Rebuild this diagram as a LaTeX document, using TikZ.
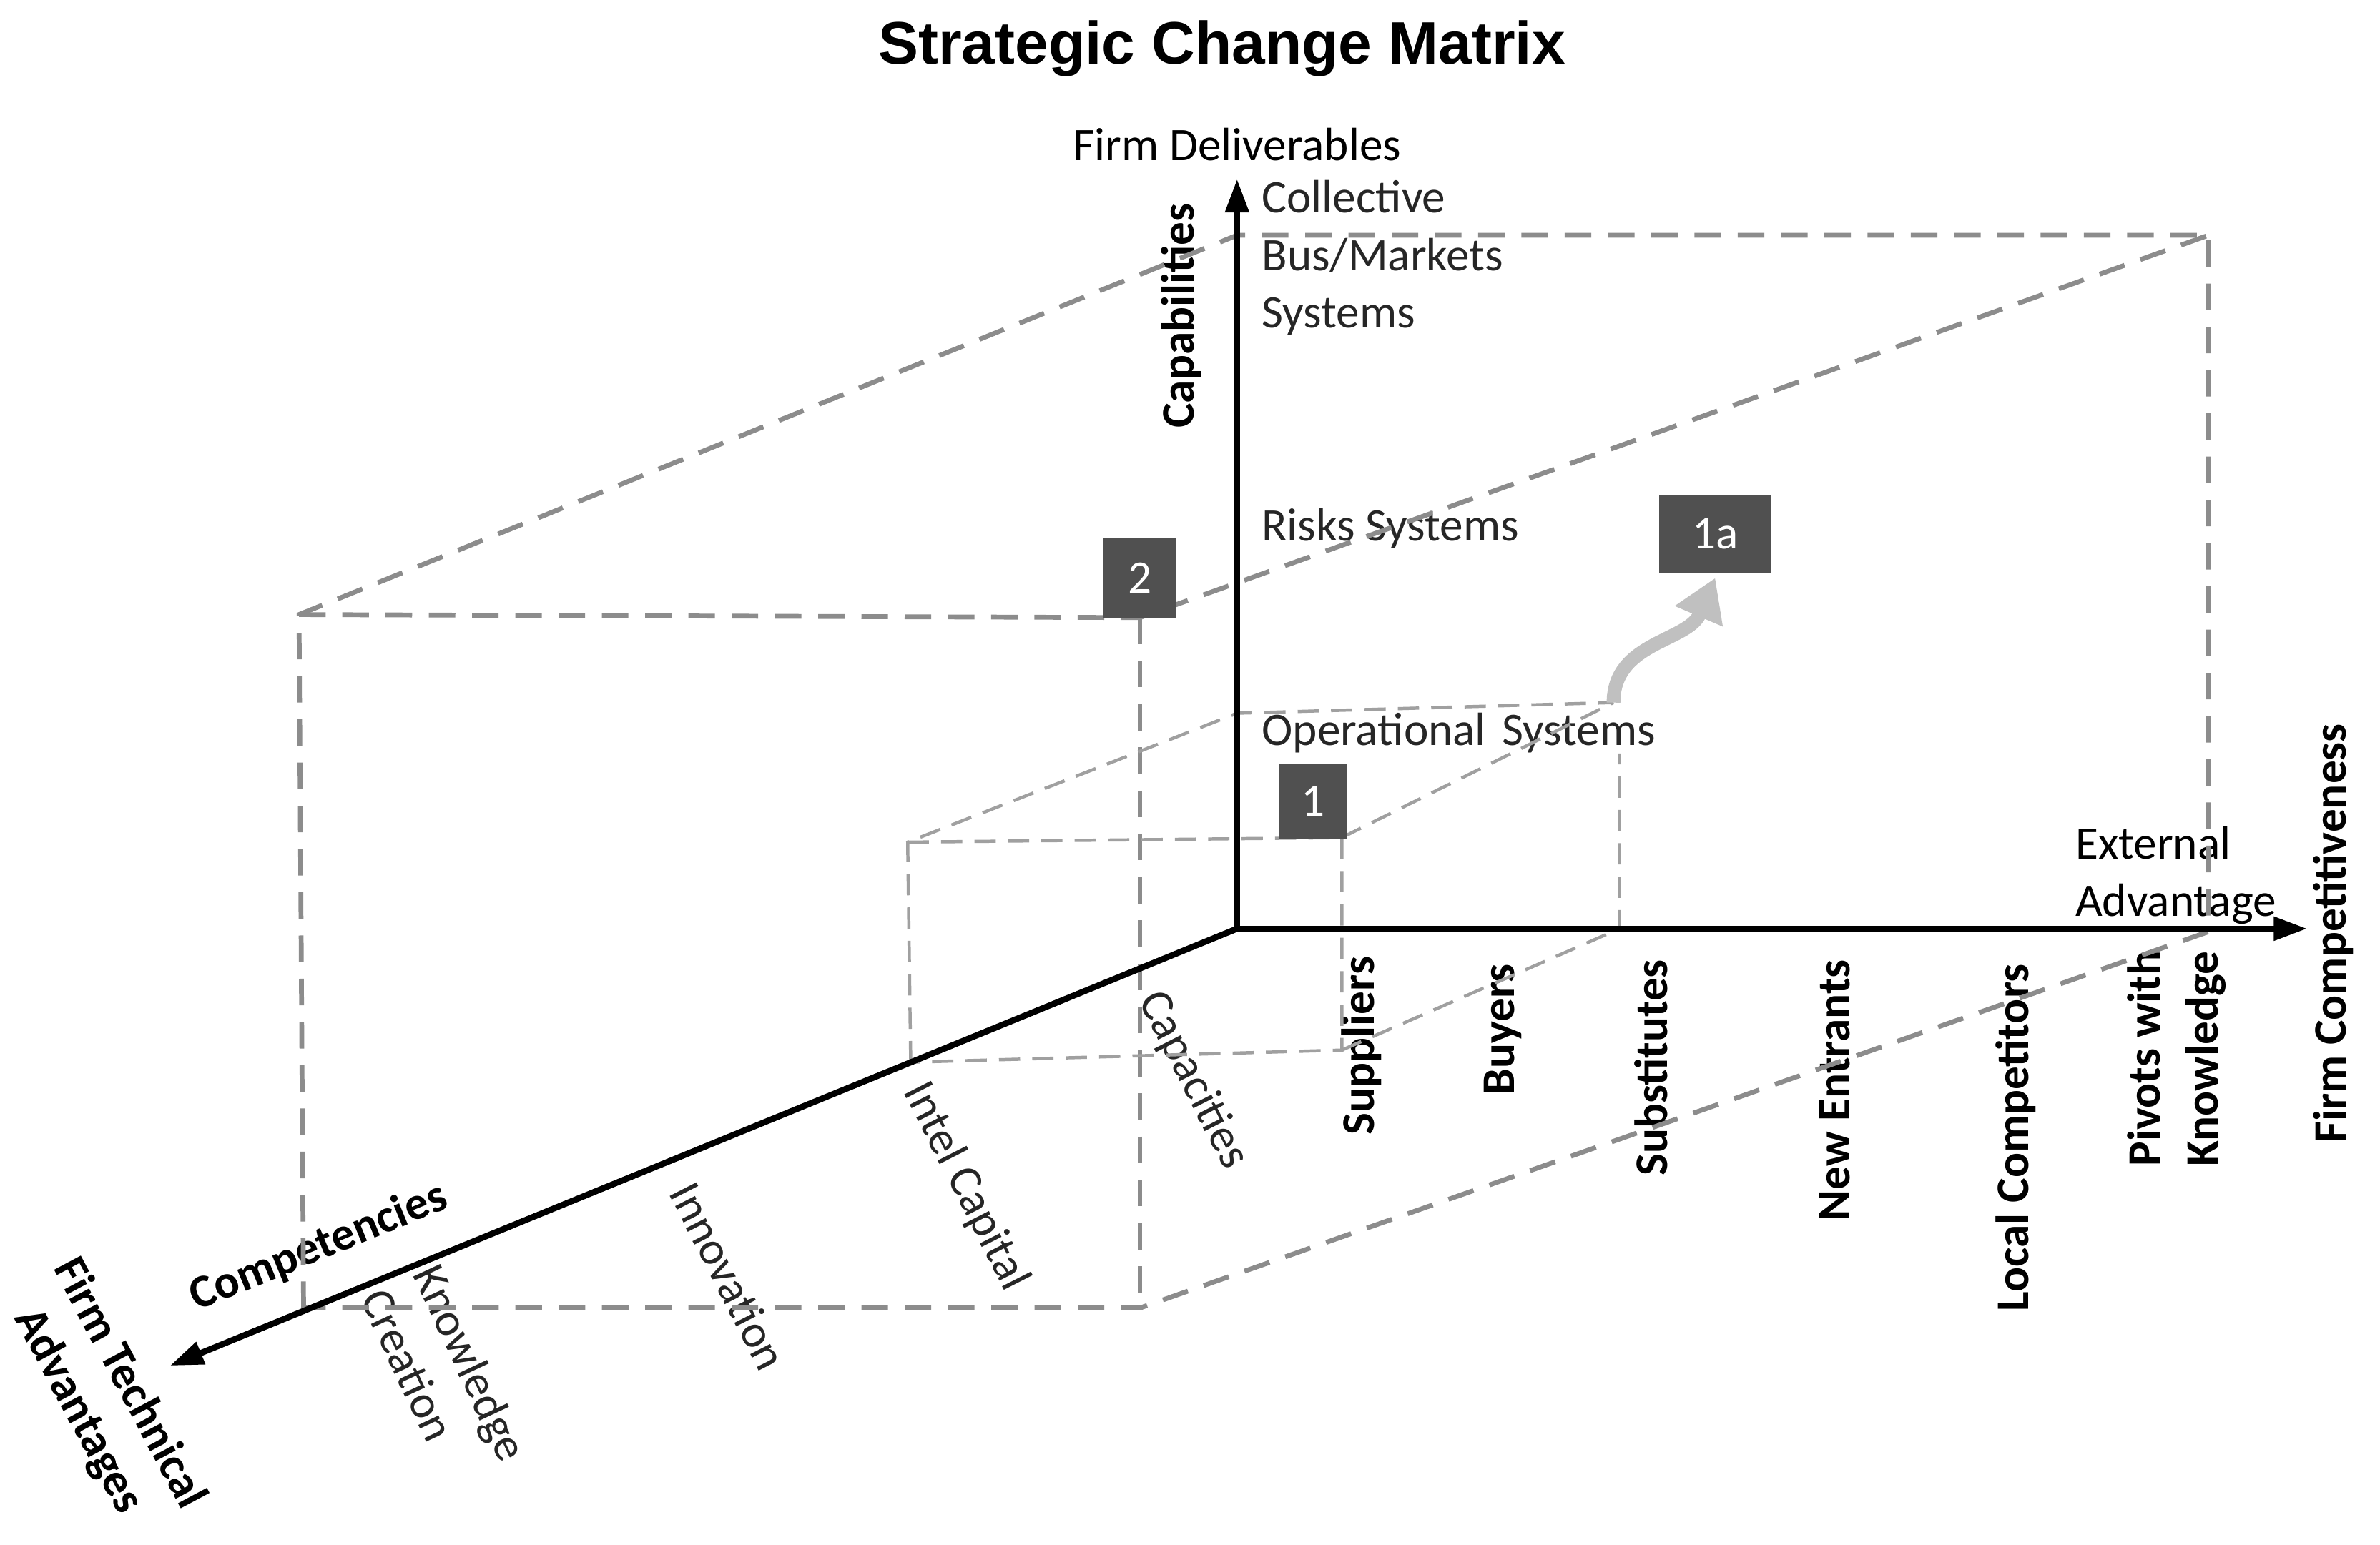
\documentclass[tikz,border=0pt]{standalone}
\usepackage{fontspec}
\setmainfont{Carlito}
\newfontfamily\headfont{Liberation Sans}
\usepackage{tikz}
\usetikzlibrary{arrows.meta,calc,positioning}

\definecolor{boxgray}{HTML}{505050}
\definecolor{outergray}{HTML}{8C8C8C}
\definecolor{innergray}{HTML}{A0A0A0}
\definecolor{curvegray}{HTML}{C0C0C0}
\definecolor{labelgray}{HTML}{262626}

\newcommand{\lblfont}{\fontsize{17.5}{21.6}\selectfont}

\tikzset{
  axis/.style={line width=2.3pt},
  outerbox/.style={outergray, line width=1.8pt, dash pattern=on 3.5mm off 2.2mm},
  innerbox/.style={innergray, line width=1.2pt, dash pattern=on 2.8mm off 1.6mm},
  numbox/.style={fill=boxgray, text=white, inner sep=0pt, font=\lblfont},
  lbl/.style={inner sep=0pt, font=\lblfont, text=labelgray},
  axlbl/.style={inner sep=0pt, font=\lblfont\bfseries, text=black},
}

\begin{document}
\begin{tikzpicture}[x=0.2mm, y=-0.2mm, >={Triangle[length=4.4mm,width=3mm]}, node distance=1mm, align=center]
	\useasboundingbox (0,0) rectangle (1568,1018);
	\node[font=\headfont\bfseries\fontsize{22.5}{27}\selectfont] (title) at (805,32) {Strategic Change Matrix};

	\coordinate (O) at (815,612);
	\coordinate (y_tip) at (815,118);
	\coordinate (x_tip) at (1520,612);
	\coordinate (z_tip) at (112,900);

	\coordinate (o_ftl) at (197,405);
	\coordinate (o_ftr) at (751,407);
	\coordinate (o_fbl) at (200,862);
	\coordinate (o_fbr) at (751,862);
	\coordinate (o_btl) at (815,155);
	\coordinate (o_btr) at (1455,155);
	\coordinate (o_bbr) at (1455,614);

	\coordinate (i_ftl) at (598,555);
	\coordinate (i_ftr) at (884,552);
	\coordinate (i_fbl) at (600,700);
	\coordinate (i_fbr) at (884,692);
	\coordinate (i_btl) at (815,470);
	\coordinate (i_btr) at (1063,463);
	\coordinate (i_bbr) at (1067,612);

	\node[lbl, text=black] (deliv) [above=2.3mm of y_tip] {Firm Deliverables};
	\node[axlbl, rotate=90] (capab) at (778,208) {Capabilities};
	\node[lbl, anchor=west, align=left] (collect) at (831,170) {Collective\\Bus/Markets\\Systems};
	\node[lbl, anchor=west] (risk) at (831,348) {Risks Systems};
	\node[lbl, anchor=west] (oper) at (831,483) {Operational\hspace{0.35em}Systems};
	\node[lbl, text=black, anchor=west, align=left] (extadv) at (1367,577) {External\\Advantage};
	\node[axlbl, rotate=90] (firmcomp) at (1537,615) {Firm Competitiveness};

	\foreach \xx/\yy/\txt [count=\i] in {897/630/Suppliers, 990/635/Buyers, 1088/632/Substitutes, 1209/632/New Entrants, 1328/635/Local Competitors}
		\node[axlbl, rotate=90, anchor=east] (x_lb\i) at (\xx,\yy) {\txt};
	\node[axlbl, rotate=90, anchor=east, align=left] (x_lb6) at (1434,626) {Pivots with\\Knowledge};

	\node[lbl, rotate=-63] (capac) at (786,712) {Capacities};
	\node[lbl, rotate=-63] (intel) at (636,782) {Intel Capital};
	\node[lbl, rotate=-63] (innov) at (480,841) {Innovation};
	\node[lbl, rotate=-65, align=left] (knowc) at (293,906) {Knowledge\\Creation};
	\node[axlbl, rotate=22.3] (compet) at (210,822) {Competencies};
	\node[axlbl, rotate=-62] (firmtech) at (68,921) {Firm Technical\\Advantages};

	\draw[outerbox] (o_fbl) -- (o_ftl) -- (o_btl) -- (o_btr) -- (o_bbr) -- (o_fbr) -- (o_fbl);
	\draw[outerbox] (o_ftl) -- (o_ftr) -- (o_btr);
	\draw[outerbox] (o_ftr) -- (o_fbr);

	\draw[innerbox] (i_fbl) -- (i_ftl) -- (i_btl) -- (i_btr);
	\draw[innerbox] (i_ftl) -- (i_ftr) -- (i_fbr) -- (i_fbl);
	\draw[innerbox] (i_ftr) -- (i_btr);
	\draw[innerbox] (i_fbr) -- (i_bbr) -- (oper.south -| i_bbr);

	\draw[axis, <->] (y_tip) -- (O) -- (x_tip);
	\draw[axis, ->] (O) -- (z_tip);

	\node[numbox, minimum width=9.6mm, minimum height=10.4mm] (n_2) at (751,381) {2};
	\node[numbox, minimum width=9mm, minimum height=10mm] (n_1) at (865,528) {1};
	\node[numbox, minimum width=14.8mm, minimum height=10.2mm] (n_1a) at (1130,352) {1a};

	\draw[curvegray, line width=1.8mm, -{Triangle[length=5.5mm,width=6.5mm]}] (i_btr) .. controls ($(i_btr)+(0,-40)$) and ($(n_1a.south)+(-18,45)$) .. ([yshift=-0.6mm]n_1a.south);
\end{tikzpicture}
\end{document}
